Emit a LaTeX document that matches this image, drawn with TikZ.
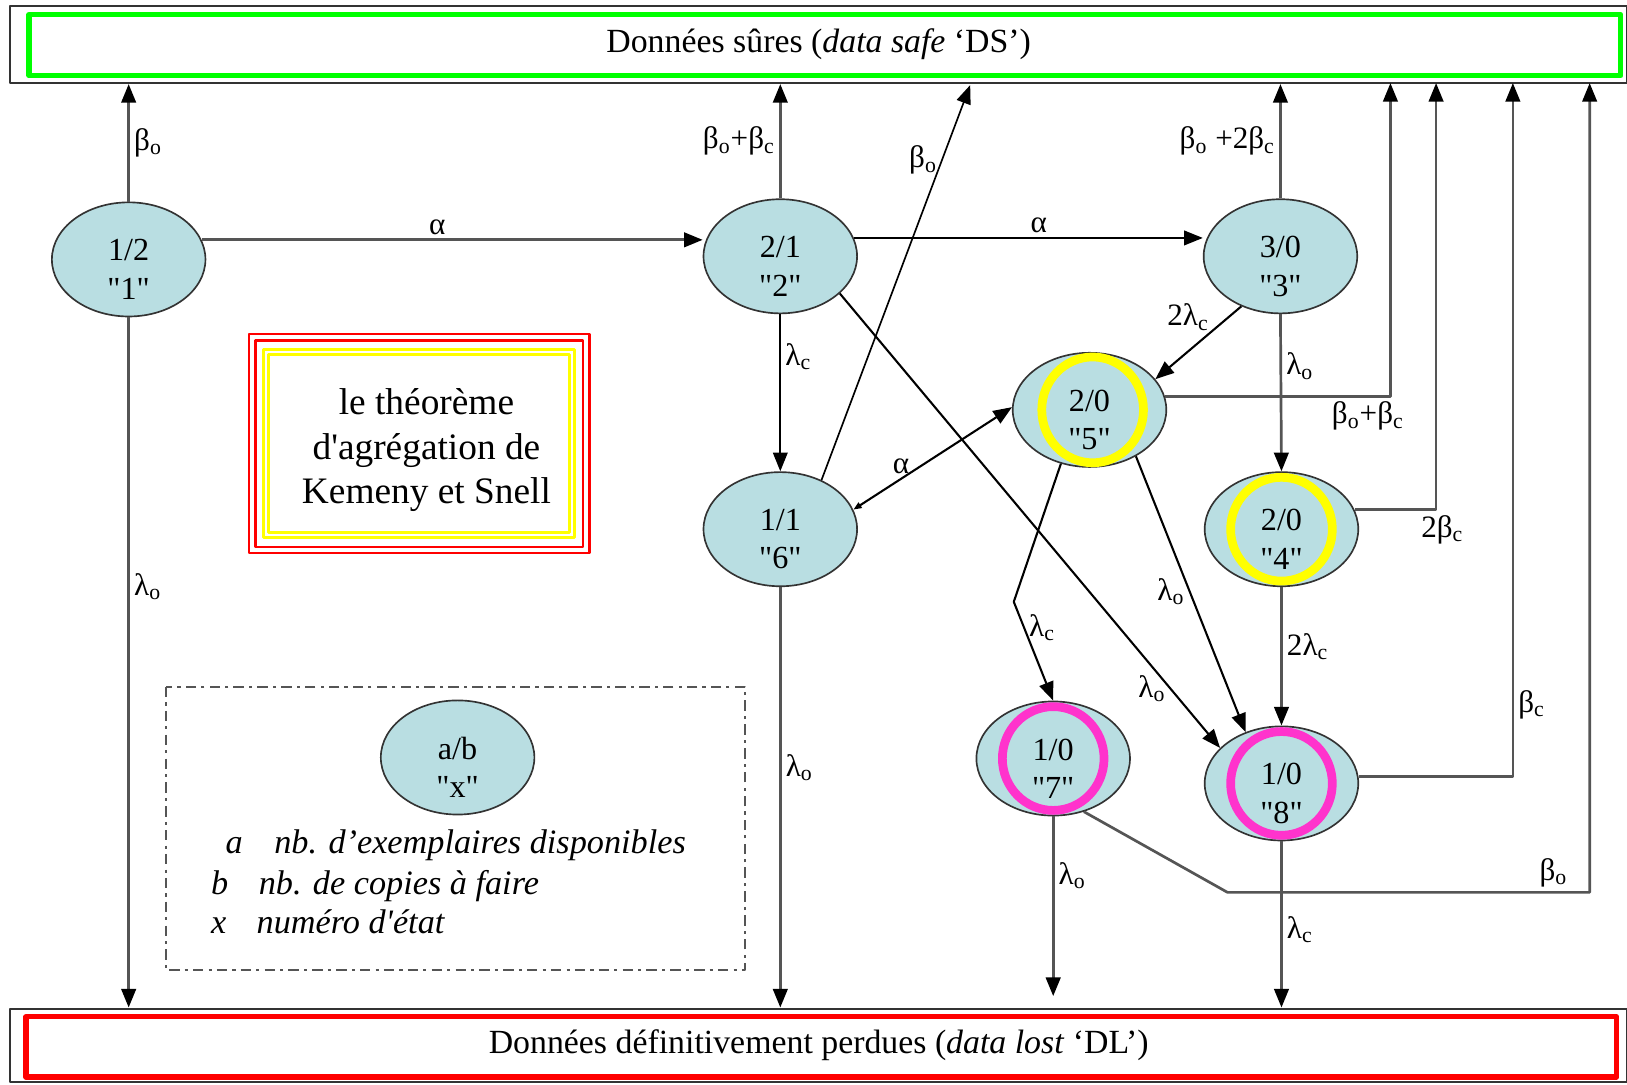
\documentclass[tikz,border=0pt]{standalone}
\usepackage{fontspec}
\setmainfont{Liberation Serif}[Ligatures=TeXOff]
\usetikzlibrary{shapes.geometric,arrows.meta}
\definecolor{bleuetat}{HTML}{B9DEE2}
\definecolor{vertDS}{HTML}{00FF00}
\definecolor{rougeDL}{HTML}{FF0000}
\definecolor{jaune}{HTML}{FFFF00}
\definecolor{rose}{HTML}{FF33CC}
\definecolor{trait}{HTML}{555555}
% texte d'un etat : couple a/b puis numero
\newcommand\etiq[2]{\rule{0pt}{20pt}#1\\"#2"}
\tikzset{
  etat/.style={ellipse, draw=black!80, line width=0.8pt, fill=bleuetat,
    minimum width=74pt, minimum height=55pt, inner sep=0pt, align=center,
    font=\fontsize{15.5}{18.5}\selectfont},
  fl/.style={draw=trait, line width=1.3pt, -{Triangle[length=9pt,width=7pt,color=black]}},
  fld/.style={draw=black, line width=1pt, -{Triangle[length=9pt,width=7pt]}},
  lab/.style={font=\fontsize{15}{17}\selectfont, inner sep=2pt},
  legende/.style={font=\fontsize{16.5}{19}\itshape, inner sep=0pt, anchor=base west},
  anneau/.style={line width=4.2pt},
}
\begin{document}
\begin{tikzpicture}[x=0.5pt, y=-0.5pt, line join=round]
\useasboundingbox (0,0) rectangle (1568,1045);
%== boites DS / DL
\node[draw=black!80, line width=1pt, minimum width=779pt, minimum height=37pt, inner sep=0pt,
  font=\fontsize{16.3}{19}\selectfont] (ds) at (789,43) {Données sûres (\textit{data safe} ‘DS’)};
\draw[vertDS, line width=2.5pt] (28,14) rectangle (1562,73);
\node[draw=black!80, line width=1pt, minimum width=779pt, minimum height=35.5pt, inner sep=0pt,
  font=\fontsize{16.3}{19}\selectfont] (dl) at (789,1007.5) {Données définitivement perdues (\textit{data lost} ‘DL’)};
\draw[rougeDL, line width=2.5pt] (25,980) rectangle (1558,1038);
%== encadre du theoreme
\node[align=center, font=\fontsize{18}{21.5}\selectfont] (kem) at (411,434)
  {le théorème\\d'agrégation de\\Kemeny et Snell};
\draw[rougeDL, line width=1.2pt] (240,322) rectangle (568,533);
\draw[rougeDL, line width=1.2pt] (246,328) rectangle (562,527);
\draw[jaune, line width=1.5pt] (254,337) rectangle (554,518);
\draw[jaune, line width=1.5pt] (259,342) rectangle (549,513);
%== legende
\draw[trait, line width=1.2pt, dash pattern=on 5pt off 2.5pt on 1.5pt off 2.5pt] (160,662) rectangle (718,935);
\node[etat] (ex) at (441,730) {\etiq{a/b}{x}};
\node[legende] (la) at (217,823) {a};
\node[legende] (lta) at (264,823) {nb. d’exemplaires disponibles};
\node[legende] (lb) at (203,862) {b};
\node[legende] (ltb) at (249,862) {nb. de copies à faire};
\node[legende] (lx) at (203,900) {x};
\node[legende] (ltx) at (247,900) {numéro d'état};
%== etats
\node[etat] (e1) at (124,250) {\etiq{1/2}{1}};
\node[etat] (e2) at (752,247) {\etiq{2/1}{2}};
\node[etat] (e3) at (1234,247) {\etiq{3/0}{3}};
\node[etat] (e5) at (1050,395) {\etiq{2/0}{5}};
\node[etat] (e6) at (752,510) {\etiq{1/1}{6}};
\node[etat] (e4) at (1235,510) {\etiq{2/0}{4}};
\node[etat] (e7) at (1015,731) {\etiq{1/0}{7}};
\node[etat] (e8) at (1235,755) {\etiq{1/0}{8}};
\draw[jaune, anneau] ([shift={(3,0)}]e5.center) ellipse [x radius=24.5pt, y radius=25.5pt];
\draw[jaune, anneau] (e4.center) ellipse [x radius=24.5pt, y radius=25pt];
\draw[rose, anneau] (e7.center) ellipse [x radius=24.5pt, y radius=25pt];
\draw[rose, anneau] (e8.center) ellipse [x radius=24.5pt, y radius=25pt];
%== extremites libres
\coordinate (s6) at (935,82);
\coordinate (s5) at (1340,80);
\coordinate (s4) at (1384,80);
\coordinate (s8) at (1458,80);
\coordinate (s7) at (1532,80);
\coordinate (b7) at (1183,860);
\coordinate (b5) at (977,580);
\coordinate (d7) at (1015,960);
%== transitions
\draw[fl] (e1.north) -- (e1.north |- ds.south) node[lab, midway, right] {β\textsubscript{o}};
\draw[fl] (e1.15) -- (e1.15 -| e2.west) node[lab, pos=0.47, above] {α};
\draw[fl] (e1.south) -- (e1.south |- dl.north) node[lab, pos=0.39, right] {λ\textsubscript{o}};
\draw[fl] (e2.north) -- (e2.north |- ds.south) node[lab, midway, left] {β\textsubscript{o}+β\textsubscript{c}};
\draw[fld] (e2.14) -- (e2.14 -| e3.west) node[lab, pos=0.53, above] {α};
\draw[fld] (e2.south) -- (e6.north) node[lab, pos=0.27, right] {λ\textsubscript{c}};
\draw[fld] (e2.-32) -- (e8.150) node[lab, pos=0.87, left] {λ\textsubscript{o}};
\draw[fld, line width=0.8pt] (e6.50) -- (s6) node[lab, pos=0.81, left] {β\textsubscript{o}};
\draw[fld, {Triangle[length=4pt,width=3pt]}-{Triangle[length=9pt,width=7pt]}] (e6.15) -- (e5.178)
  node[lab, pos=0.3, above] {α};
\draw[fl] (e6.south) -- (e6.south |- dl.north) node[lab, pos=0.43, right] {λ\textsubscript{o}};
\draw[fl] (e3.north) -- (e3.north |- ds.south) node[lab, midway, left] {β\textsubscript{o} +2β\textsubscript{c}};
\draw[fld] (e3.-128) -- (e5.25) node[lab, pos=0.15, left=7pt] {2λ\textsubscript{c}};
\draw[fl] (e3.south) -- (e4.north) node[lab, pos=0.33, right] {λ\textsubscript{o}};
\draw[fl] (e5.10) -| node[lab, pos=0.45, below] {β\textsubscript{o}+β\textsubscript{c}} (s5);
\draw[fl] (e4.15) -| node[lab, pos=0.5, below, xshift=3pt] {2β\textsubscript{c}} (s4);
\draw[fl] (e8.5) -| node[lab, pos=0.552, right] {β\textsubscript{c}} (s8);
\draw[fl] (e7.-60) -- (b7) -| node[lab, pos=0.45, above] {β\textsubscript{o}} (s7);
\draw[fld] (e5.-118) -- (b5) -- (e7.north) node[lab, pos=0.26, right] {λ\textsubscript{c}};
\draw[fld] (e5.-45) -- (e8.125) node[lab, pos=0.49, left] {λ\textsubscript{o}};
\draw[fl] (e4.south) -- (e8.north) node[lab, pos=0.43, right] {2λ\textsubscript{c}};
\draw[fl] (e7.south) -- (d7) node[lab, pos=0.33, right] {λ\textsubscript{o}};
\draw[fl] (e8.south) -- (e8.south |- dl.north) node[lab, pos=0.53, right] {λ\textsubscript{c}};
\end{tikzpicture}
\end{document}
